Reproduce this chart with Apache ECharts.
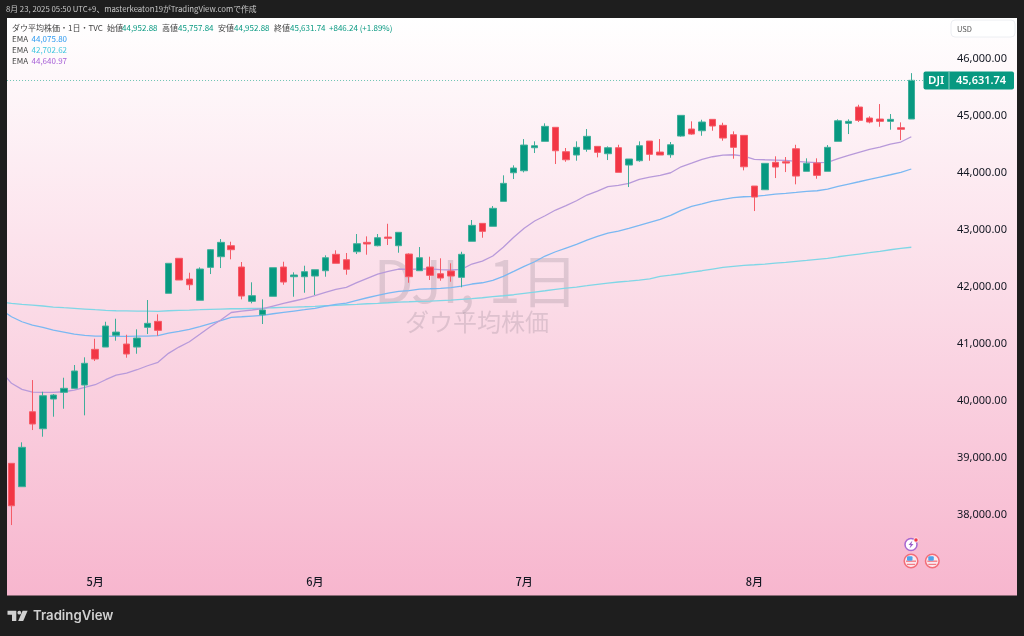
<!DOCTYPE html>
<html><head><meta charset="utf-8">
<style>html,body{margin:0;padding:0;background:#1e1e1e}#c{width:1024px;height:636px}</style>
<script src="https://cdn.jsdelivr.net/npm/echarts@6/dist/echarts.min.js"></script>
</head><body><div id="c"></div>
<script>
const dates = ['4/17',
'4/21','4/22','4/23','4/24','4/25','4/28','4/29','4/30',
'5/1','5/2','5/5','5/6','5/7','5/8','5/9','5/12','5/13','5/14','5/15','5/16','5/19','5/20','5/21','5/22','5/23','5/27','5/28','5/29','5/30',
'6/2','6/3','6/4','6/5','6/6','6/9','6/10','6/11','6/12','6/13','6/16','6/17','6/18','6/20','6/23','6/24','6/25','6/26','6/27','6/30',
'7/1','7/2','7/3','7/7','7/8','7/9','7/10','7/11','7/14','7/15','7/16','7/17','7/18','7/21','7/22','7/23','7/24','7/25','7/28','7/29','7/30','7/31',
'8/1','8/4','8/5','8/6','8/7','8/8','8/11','8/12','8/13','8/14','8/15','8/18','8/19','8/20','8/21','8/22','+1','+2','+3'];
const monthLabels = {'5/1':'5月','6/2':'6月','7/1':'7月','8/1':'8月'};
const priceTicks = [38000,39000,40000,41000,42000,43000,44000,45000,46000];
const opens = ['-',
38912,38502,39817,39519,40040,40158,40228,40286,40912,40952,
41158,41005,40952,41298,41403,41895,42509,42145,41772,42350,
42537,42730,42356,41754,41519,41842,42356,42186,42186,42198,
42291,42579,42484,42624,42789,42730,42882,42730,42584,42291,
42356,42238,42286,42175,42807,43122,43070,43508,44010,44045,
44449,44561,44807,44379,44321,44421,44473,44344,44449,44145,
44221,44566,44373,44326,44654,44777,44747,44947,44842,44677,
44666,43777,43712,44193,44203,44431,44035,44180,44035,44561,
44877,45163,44970,44952,44912,44800,44952.88];
const closes = ['-',
38168,39193,39602,40098,40110,40228,40532,40667,40742,41321,
41215,40830,41110,41368,41245,42421,42128,42045,42321,42660,
42789,42660,41847,41853,41602,42344,42093,42216,42274,42309,
42519,42421,42316,42765,42760,42870,42859,42965,42186,42519,
42210,42163,42198,42579,43087,42982,43386,43824,44093,44496,
44484,44824,44396,44238,44456,44649,44368,44449,44017,44251,
44484,44333,44321,44501,45017,44689,44900,44830,44619,44456,
44115,43584,44175,44110,44180,43952,44175,43964,44456,44922,
44912,44929,44900,44912,44947,44772,45631.74];
const lows = ['-',
37829,38502,39496,39379,39730,39870,40228,39754,40707,40952,
41063,40765,40835,41180,41151,41895,42128,41952,41772,42233,
42338,42491,41789,41719,41356,41842,42045,41835,41905,41865,
42186,42421,42221,42584,42572,42719,42742,42607,42080,42291,
42128,42116,42098,42000,42807,42870,43070,43508,43900,44017,
44356,44561,44163,44203,44221,44379,44280,44233,44017,43759,
44203,44221,44321,44273,44642,44677,44659,44747,44572,44256,
44052,43338,43712,43917,44022,43807,44035,43905,44035,44561,
44689,44900,44877,44817,44765,44584,44952.88];
const highs = ['-',
38917,39281,40373,40168,40128,40414,40637,40772,41098,41396,
41449,41168,41263,41777,41526,42421,42514,42256,42350,42672,
42847,42800,42444,42088,41789,42344,42449,42263,42379,42309,
42561,42649,42602,42935,42894,42935,43115,42965,42596,42707,
42537,42509,42421,42624,43181,43122,43426,43965,44140,44601,
44561,44877,44807,44444,44561,44777,44473,44473,44501,44251,
44561,44566,44601,44549,45017,44912,44940,44947,44887,44736,
44666,43777,44175,44298,44286,44501,44263,44263,44496,44947,
44947,45203,45000,45215,45040,44894,45757.84];
const emaPurple = [40531,
40316,40210,40163,40158,40158,40168,40198,40246,40291,40379,
40461,40496,40554,40624,40684,40842,40952,41045,41175,41309,
41426,41558,41581,41602,41625,41672,41719,41760,41800,41853,
41912,41965,42000,42081,42158,42233,42281,42321,42316,42321,
42321,42309,42304,42316,42409,42461,42549,42702,42877,43035,
43163,43256,43356,43432,43519,43619,43689,43765,43789,43824,
43895,43935,43965,44010,44115,44180,44246,44291,44321,44326,
44303,44246,44238,44233,44228,44210,44198,44186,44193,44256,
44315,44368,44421,44461,44514,44549,44640.97];
const emaBlue = [41607,
41484,41396,41338,41298,41250,41215,41180,41158,41145,41145,
41140,41140,41142,41145,41151,41198,41228,41263,41309,41361,
41414,41473,41484,41496,41508,41536,41561,41584,41607,41631,
41671,41701,41724,41771,41817,41859,41900,41929,41943,41970,
41975,41982,41993,42022,42058,42080,42122,42193,42280,42368,
42449,42549,42624,42689,42754,42829,42894,42952,42987,43035,
43087,43140,43193,43263,43350,43421,43466,43514,43543,43572,
43589,43596,43614,43636,43649,43666,43684,43694,43724,43772,
43812,43852,43894,43935,43975,44017,44075.80];
const emaCyan = [41742,
41719,41701,41689,41672,41654,41642,41631,41619,41607,41596,
41589,41587,41584,41584,41579,41589,41596,41601,41607,41614,
41619,41624,41624,41628,41631,41642,41649,41654,41659,41666,
41677,41684,41694,41701,41712,41719,41729,41742,41747,41754,
41759,41768,41777,41789,41800,41817,41835,41852,41870,41894,
41917,41940,41965,41987,42005,42028,42052,42075,42093,42110,
42128,42149,42193,42215,42238,42268,42291,42321,42350,42368,
42386,42396,42408,42426,42438,42456,42473,42491,42508,42536,
42561,42584,42607,42631,42659,42684,42702.62];

const lastPrice = 45631.74;
const lastPriceText = '45,631.74';
const headerText = '8月 23, 2025 05:50 UTC+9、masterkeaton19がTradingView.comで作成';
const legendParts = [
 ['ダウ平均株価・1日・TVC',12,'#444'],['始値',107,'#444'],['44,952.88',122,'#089981'],
 ['高値',162,'#444'],['45,757.84',178,'#089981'],['安値',218,'#444'],['44,952.88',234,'#089981'],
 ['終値',274,'#444'],['45,631.74',290,'#089981'],['+846.24 (+1.89%)',329,'#089981']];
const emaLegend = [['EMA','44,075.80','#2f9bf0'],['EMA','42,702.62','#3fc6de'],['EMA','44,640.97','#a65fd6']];

const GREEN='#089981', RED='#f23645';
const CJK='"Noto Sans CJK JP","Noto Sans",sans-serif';
const chart = echarts.init(document.getElementById('c'),null,{renderer:'canvas'});
const txt=(x,y,text,fill,size,extra)=>({type:'text',x,y,z:50,silent:true,style:Object.assign({text,fill,font:size+'px '+CJK,textVerticalAlign:'middle'},extra||{})});

const graphic=[
 {type:'rect',shape:{x:7,y:18,width:1010,height:577.5},z:-10,silent:true,
  style:{fill:new echarts.graphic.LinearGradient(0,0,0,1,[{offset:0,color:'#ffffff'},{offset:1,color:'#f7b6ce'}])}},
 {type:'text',x:476,y:281,z:-5,silent:true,style:{text:'DJI, 1日',fill:'rgba(110,100,115,0.2)',font:'58px '+CJK,textAlign:'center',textVerticalAlign:'middle'}},
 {type:'text',x:477,y:322,z:-5,silent:true,style:{text:'ダウ平均株価',fill:'rgba(110,100,115,0.2)',font:'24px '+CJK,textAlign:'center',textVerticalAlign:'middle'}},
 {type:'rect',z:30,silent:true,shape:{x:0,y:18,width:7,height:578},style:{fill:'#1e1e1e'}},
 txt(6,9.5,headerText,'#c8c8c8',7.8),
 {type:'rect',z:40,silent:true,shape:{x:951,y:20,width:64,height:17,r:4},style:{fill:'#fff',stroke:'#eceef2',lineWidth:1}},
 txt(957,29,'USD','#555',7.5),
 {type:'rect',z:40,silent:true,shape:{x:923.5,y:71.5,width:90.5,height:18,r:2},style:{fill:GREEN}},
 {type:'rect',z:41,silent:true,shape:{x:948.5,y:71.5,width:1,height:18},style:{fill:'#8fd0c4'}},
 txt(928,81,'DJI','#fff',11.5,{font:'600 11.5px "Noto Sans",sans-serif'}),
 txt(956,81,lastPriceText,'#fff',11,{font:'600 11px "Noto Sans",sans-serif'}),
 {type:'circle',z:40,silent:true,shape:{cx:911,cy:544.5,r:6},style:{fill:'#fff',stroke:'#a868d0',lineWidth:1.5}},
 {type:'polygon',z:41,silent:true,shape:{points:[[912.5,540.5],[908.5,545],[910.7,545],[909.5,548.5],[913.5,544],[911.3,544]]},style:{fill:'#9a5cc8'}},
 {type:'circle',z:42,silent:true,shape:{cx:916,cy:540,r:2.2},style:{fill:'#f23645',stroke:'#fff',lineWidth:.8}}
];
[911,932.3].forEach(cx=>{const cy=561;
 graphic.push({type:'circle',z:40,silent:true,shape:{cx,cy,r:6.8},style:{fill:'#fbe8ee',stroke:'#f36d78',lineWidth:1.5}});
 graphic.push({type:'rect',z:41,silent:true,shape:{x:cx-5,y:cy-.5,width:10,height:1.4},style:{fill:'#f27c86'}});
 graphic.push({type:'rect',z:41,silent:true,shape:{x:cx-4,y:cy+2.8,width:8,height:1.2},style:{fill:'#f27c86'}});
 graphic.push({type:'rect',z:41,silent:true,shape:{x:cx-4,y:cy-4.8,width:5.5,height:4.5,r:1},style:{fill:'#4fa3ea'}});
});
legendParts.forEach(p=>graphic.push(txt(p[1],27.7,p[0],p[2],8)));
emaLegend.forEach((e,i)=>{const y=39+i*11.1;
 graphic.push(txt(12,y,e[0],'#444',8));
 graphic.push(txt(31.5,y,e[1],e[2],8));});
graphic.push(
 {type:'polygon',z:40,silent:true,shape:{points:[[7.5,610.7],[16.3,610.7],[16.3,621],[12,621],[12,614.7],[7.5,614.7]]},style:{fill:'#d0d0d0'}},
 {type:'circle',z:40,silent:true,shape:{cx:19.3,cy:612.7,r:1.9},style:{fill:'#d0d0d0'}},
 {type:'polygon',z:40,silent:true,shape:{points:[[22.6,610.7],[27.6,610.7],[23.2,621],[18.2,621]]},style:{fill:'#d0d0d0'}},
 {type:'text',x:33,y:616.3,z:40,silent:true,style:{text:'TradingView',fill:'#d0d0d0',font:'600 13.2px Inter,"Noto Sans",sans-serif',textVerticalAlign:'middle'}}
);

const lineSeries=(name,data,color)=>({type:'line',name,data,showSymbol:false,symbol:'none',smooth:false,z:3,
  lineStyle:{color,width:1.3},itemStyle:{color},silent:true});
chart.setOption({
 animation:false,
 backgroundColor:'#1e1e1e',
 grid:{left:1.04,right:81.3,top:18,bottom:41,containLabel:false},
 graphic,
 xAxis:{type:'category',data:dates,boundaryGap:false,
   axisLine:{show:false},axisTick:{show:false},splitLine:{show:false},
   axisLabel:{inside:true,margin:8,interval:(i,v)=>v in monthLabels,formatter:v=>monthLabels[v]||'',
     color:'#131722',fontSize:11,fontWeight:500,fontFamily:CJK}},
 yAxis:{type:'value',position:'right',min:36602,max:46725,scale:true,
   axisLine:{show:false},axisTick:{show:false},splitLine:{show:false},
   axisLabel:{customValues:priceTicks,margin:14.3,color:'#131722',fontSize:11,fontFamily:'"Noto Sans",sans-serif',
     formatter:v=>v.toLocaleString('en-US',{minimumFractionDigits:2,maximumFractionDigits:2})}},
 series:[
  lineSeries('EMA 200',emaCyan,'#7fd6e6'),
  lineSeries('EMA 50',emaBlue,'#7ab8f2'),
  lineSeries('EMA 20',emaPurple,'#b89ada'),
  {type:'candlestick',name:'DJI',z:4,barWidth:7,silent:true,
   data:opens.map((o,i)=>[o,closes[i],lows[i],highs[i]]),
   itemStyle:{color:GREEN,color0:RED,borderColor:'#3fae9a',borderColor0:'#f55c68',borderWidth:1},
   markLine:{silent:true,symbol:'none',animation:false,label:{show:false},
     lineStyle:{color:'#6fc4b4',type:[1,2],width:1},data:[{yAxis:lastPrice}]}}
 ]
});
</script></body></html>
